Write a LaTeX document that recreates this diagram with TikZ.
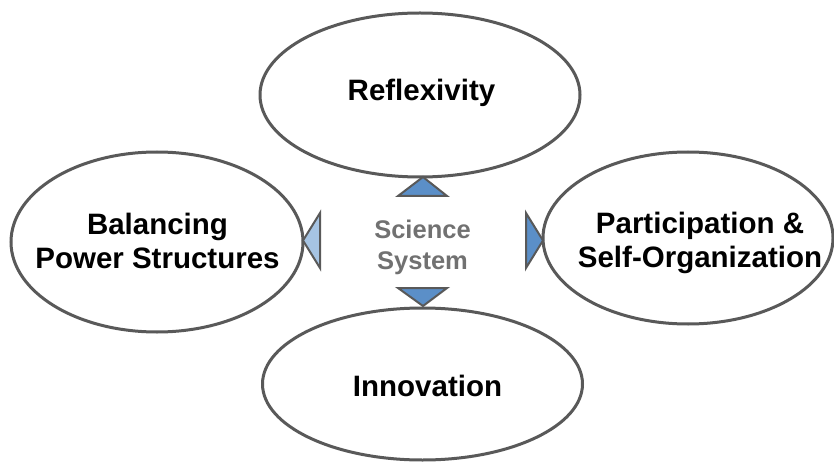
\documentclass[tikz,border=0pt]{standalone}
\usepackage{fontspec}
\setmainfont{Liberation Sans}
\usetikzlibrary{shapes.geometric}
\definecolor{edgegray}{HTML}{595959}
\definecolor{centergray}{HTML}{717171}
\definecolor{triblue}{HTML}{5B8FC8}
\definecolor{trilight}{HTML}{A6C4E3}
\tikzset{
  oval/.style={ellipse, draw=edgegray, line width=3pt, fill=white, inner sep=0pt},
  lbl/.style={font=\fontsize{29.5}{34}\selectfont\bfseries, align=center, text=black, inner sep=0pt},
  centerlbl/.style={font=\fontsize{25.5}{31}\selectfont\bfseries, align=center, text=centergray, inner sep=0pt},
  tri/.style={draw=edgegray, line width=2pt, line join=miter, fill=triblue},
  trilt/.style={draw=edgegray, line width=2pt, line join=miter, fill=trilight}
}
\begin{document}
\begin{tikzpicture}[x=1pt,y=-1pt]
\useasboundingbox (0,0) rectangle (834,462);
% ellipses
\node[oval, minimum width=320pt, minimum height=164pt] (refl) at (420,95) {};
\node[oval, minimum width=292pt, minimum height=180pt] (bal) at (157,242) {};
\node[oval, minimum width=290pt, minimum height=172pt] (part) at (688,238) {};
\node[oval, minimum width=320pt, minimum height=152pt] (innov) at (422.5,384) {};
% labels
\node[lbl] (reflt) at (421.5,93) {Reflexivity};
\node[lbl] (balt) at (157.5,241) {Balancing\\Power Structures};
\node[lbl] (partt) at (700,243) {Participation \&\\Self-Organization};
\node[lbl] (innovt) at (427.5,386) {Innovation};
\node[centerlbl] (sci) at (422.5,247) {Science\\System};
% triangles
\coordinate (tA) at (423,177);
\coordinate (bA) at (423,306);
\coordinate (lA) at (303,240.5);
\coordinate (rA) at (543,240.5);
\draw[tri] (398,196) -- (tA) -- (447,196) -- cycle;
\draw[tri] (398,288) -- (bA) -- (447,288) -- cycle;
\draw[trilt] (320,213) -- (lA) -- (320,268) -- cycle;
\draw[tri] (526,213) -- (rA) -- (526,268) -- cycle;
\end{tikzpicture}
\end{document}
